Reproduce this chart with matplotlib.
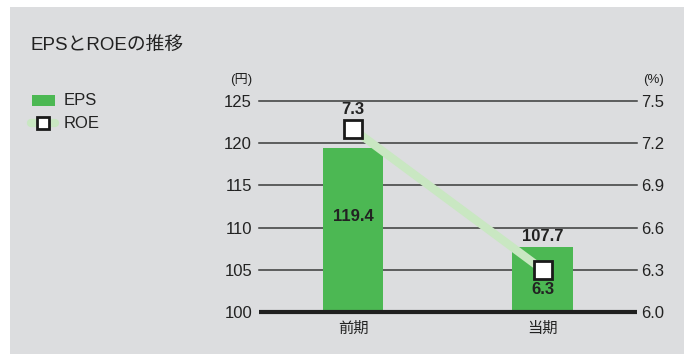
import matplotlib
matplotlib.use("Agg")
import matplotlib.pyplot as plt
from matplotlib.patches import Rectangle
from matplotlib.lines import Line2D

plt.rcParams['font.family'] = ['Liberation Sans', 'Noto Sans CJK JP', 'DejaVu Sans']

categories = ["前期", "当期"]
eps = [119.4, 107.7]
roe = [7.3, 6.3]
eps_ticks = [100, 105, 110, 115, 120, 125]
roe_ticks = [6.0, 6.3, 6.6, 6.9, 7.2, 7.5]

BG = "#dcdddf"
GREEN = "#4cb853"
LIGHT = "#c9e7c2"
INK = "#222222"
W, H = 684, 354

fig = plt.figure(figsize=(W / 100, H / 100), dpi=100)
fig.patch.set_facecolor("white")
fig.patches.append(Rectangle((10 / W, 0), 1 - 10 / W, 1 - 7 / H, transform=fig.transFigure,
                             facecolor=BG, edgecolor="none", zorder=-10))

ax = fig.add_axes([259 / W, 1 - 312 / H, 375 / W, 211 / H])
ax.set_facecolor("none")
ax.set_xlim(-0.495, 1.48)
ax.set_ylim(100, 125)
for s in ax.spines.values():
    s.set_visible(False)

x = list(range(len(categories)))
ax.bar(x, eps, width=0.32, color=GREEN, zorder=2)

for t in eps_ticks[1:]:
    ax.plot([0, 1.007], [t, t], transform=ax.get_yaxis_transform(), color="#3a3a3a",
            lw=1.1, zorder=1, clip_on=False)
ax.plot([0, 1.007], [100, 100], transform=ax.get_yaxis_transform(), color="#1f1f1f",
        lw=3, zorder=4, clip_on=False, solid_capstyle="butt")

ax.set_yticks(eps_ticks)
ax.set_yticklabels([str(t) for t in eps_ticks], fontsize=12, color=INK)
ax.tick_params(axis="y", length=0, pad=5)
ax.set_xticks(x)
ax.set_xticklabels(categories, fontsize=11, color=INK)
ax.tick_params(axis="x", length=0, pad=7)

ax2 = ax.twinx()
ax2.set_ylim(6.0, 7.5)
for s in ax2.spines.values():
    s.set_visible(False)
ax2.set_yticks(roe_ticks)
ax2.set_yticklabels([f"{t:.1f}" for t in roe_ticks], fontsize=12, color=INK)
ax2.tick_params(axis="y", length=0, pad=5)
ax2.plot(x, roe, color=LIGHT, lw=6, zorder=3, solid_capstyle="butt")
ax2.plot(x, roe, linestyle="none", marker="s", markersize=12.5, markerfacecolor="white",
         markeredgecolor="#1a1a1a", markeredgewidth=2, zorder=5)

# value labels
ax.text(x[0], 111.3, f"{eps[0]:.1f}", ha="center", va="center", fontsize=12,
        fontweight="bold", color=INK, zorder=6)
ax.text(x[1], eps[1] + 0.4, f"{eps[1]:.1f}", ha="center", va="bottom", fontsize=12,
        fontweight="bold", color=INK, zorder=6)
ax2.text(x[0], roe[0] + 0.085, f"{roe[0]:.1f}", ha="center", va="bottom", fontsize=12,
         fontweight="bold", color=INK, zorder=6)
ax2.text(x[1], roe[1] - 0.085, f"{roe[1]:.1f}", ha="center", va="top", fontsize=12,
         fontweight="bold", color=INK, zorder=6)

# unit labels
fig.text(241 / W, 1 - 80 / H, "(円)", ha="center", va="center", fontsize=9.5, color=INK)
fig.text(653 / W, 1 - 80 / H, "(%)", ha="center", va="center", fontsize=9.5, color=INK)

# title
fig.text(30 / W, 1 - 45 / H, "EPSとROEの推移", ha="left", va="center", fontsize=13.5,
         color=INK)

# legend
fig.patches.append(Rectangle((32 / W, 1 - 106 / H), 23 / W, 11 / H, transform=fig.transFigure,
                             facecolor=GREEN, edgecolor="none"))
fig.text(64 / W, 1 - 100 / H, "EPS", ha="left", va="center", fontsize=12, color=INK)
fig.lines.append(Line2D([31 / W, 55 / W], [1 - 123 / H] * 2, transform=fig.transFigure,
                        color=LIGHT, lw=6, solid_capstyle="round"))
fig.lines.append(Line2D([43 / W], [1 - 123 / H], transform=fig.transFigure, marker="s",
                        markersize=9, markerfacecolor="white", markeredgecolor="#1a1a1a",
                        markeredgewidth=2, linestyle="none"))
fig.text(64 / W, 1 - 123 / H, "ROE", ha="left", va="center", fontsize=12, color=INK)

fig.savefig("out.png", dpi=100, facecolor=fig.get_facecolor())
